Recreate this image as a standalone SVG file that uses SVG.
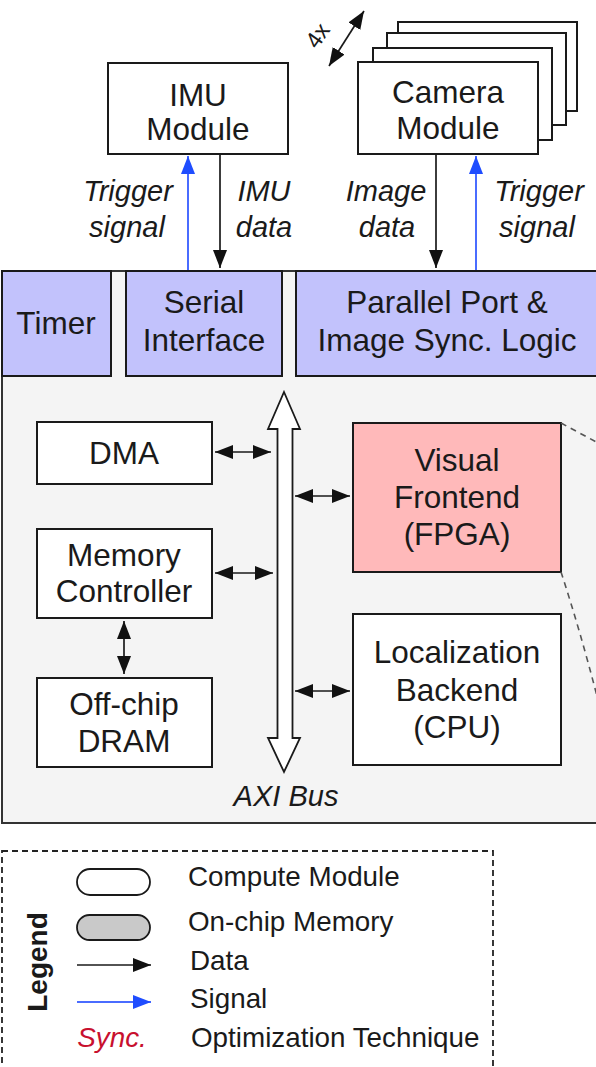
<svg xmlns="http://www.w3.org/2000/svg" width="596" height="1067" viewBox="0 0 596 1067">
  <defs>
    <style>
      text { font-family: "Liberation Sans", Arial, Helvetica, sans-serif; fill: #1a1a1a; }
      .t { font-size: 31.5px; text-anchor: middle; }
      .lbl { font-size: 29px; font-style: italic; text-anchor: middle; }
      .leg { font-size: 27.8px; }
      .box { fill: #ffffff; stroke: #1a1a1a; stroke-width: 2; }
      .port { fill: #c2c2fc; stroke: #1a1a1a; stroke-width: 2; }
      .data { stroke: #1a1a1a; stroke-width: 1.7; fill: none; }
      .sig { stroke: #4a6cff; stroke-width: 2; fill: none; }
      .dash { stroke: #555; stroke-width: 1.6; fill: none; stroke-dasharray: 6 5; }
    </style>
    <marker id="ah" viewBox="0 0 18 14" refX="18" refY="7" markerWidth="18" markerHeight="14" markerUnits="userSpaceOnUse" orient="auto-start-reverse">
      <path d="M0,0 L18,7 L0,14 z" fill="#111"/>
    </marker>
    <marker id="ahb" viewBox="0 0 18 14" refX="18" refY="7" markerWidth="18" markerHeight="14" markerUnits="userSpaceOnUse" orient="auto-start-reverse">
      <path d="M0,0 L18,7 L0,14 z" fill="#1f4dff"/>
    </marker>
  </defs>

  <rect width="596" height="1067" fill="#ffffff"/>

  <!-- SoC container -->
  <g id="soc">
    <rect x="2" y="271" width="600" height="552" fill="#f4f4f4" stroke="#333" stroke-width="2"/>
  </g>

  <!-- Sensor modules -->
  <g id="imu">
    <rect class="box" x="108" y="63" width="180" height="91"/>
    <text class="t" x="198" y="106">IMU</text>
    <text class="t" x="198" y="140">Module</text>
  </g>
  <g id="camera">
    <rect class="box" x="398" y="22" width="179" height="89"/>
    <rect class="box" x="387" y="33" width="179" height="92"/>
    <rect class="box" x="373" y="48" width="179" height="92"/>
    <rect class="box" x="358" y="62" width="180" height="92"/>
    <text class="t" x="448" y="103">Camera</text>
    <text class="t" x="448" y="139">Module</text>
  </g>
  <g id="multiplicity">
    <line class="data" x1="329" y1="66" x2="364" y2="11" marker-start="url(#ah)" marker-end="url(#ah)"/>
    <text x="324" y="40" font-size="23" text-anchor="middle" transform="rotate(-55 324 40)">4x</text>
  </g>

  <!-- Peripheral ports -->
  <g id="timer">
    <rect class="port" x="2" y="271" width="109" height="105"/>
    <text class="t" x="56" y="334">Timer</text>
  </g>
  <g id="serial">
    <rect class="port" x="126" y="271" width="156" height="105"/>
    <text class="t" x="204" y="313">Serial</text>
    <text class="t" x="204" y="351">Interface</text>
  </g>
  <g id="parallel">
    <rect class="port" x="296" y="271" width="304" height="105"/>
    <text class="t" x="447" y="313">Parallel Port &amp;</text>
    <text class="t" x="447" y="351">Image Sync. Logic</text>
  </g>

  <!-- On-chip blocks -->
  <g id="dma">
    <rect class="box" x="37" y="422" width="175" height="62"/>
    <text class="t" x="124" y="464">DMA</text>
  </g>
  <g id="memctrl">
    <rect class="box" x="37" y="529" width="175" height="89"/>
    <text class="t" x="124" y="566">Memory</text>
    <text class="t" x="124" y="602">Controller</text>
  </g>
  <g id="dram">
    <rect class="box" x="37" y="678" width="175" height="89"/>
    <text class="t" x="124" y="715">Off-chip</text>
    <text class="t" x="124" y="752">DRAM</text>
  </g>
  <g id="frontend">
    <rect x="353" y="423" width="208" height="149" fill="#ffb9ba" stroke="#1a1a1a" stroke-width="2"/>
    <text class="t" x="457" y="471">Visual</text>
    <text class="t" x="457" y="508">Frontend</text>
    <text class="t" x="457" y="545">(FPGA)</text>
  </g>
  <g id="backend">
    <rect class="box" x="353" y="614" width="208" height="151"/>
    <text class="t" x="457" y="663">Localization</text>
    <text class="t" x="457" y="701">Backend</text>
    <text class="t" x="457" y="738">(CPU)</text>
  </g>
  <g id="axi">
    <polygon points="284,392 300,429 292.5,429 292.5,738 300,738 284,772 268,738 277.5,738 277.5,429 268,429" fill="#ffffff" stroke="#1a1a1a" stroke-width="1.8" stroke-linejoin="miter"/>
    <text class="lbl" x="286" y="806">AXI Bus</text>
  </g>

  <!-- Connectors -->
  <g id="connectors">
    <line class="sig" x1="188" y1="270" x2="188" y2="156" marker-end="url(#ahb)"/>
    <line class="data" x1="220" y1="154" x2="220" y2="268" marker-end="url(#ah)"/>
    <line class="data" x1="436" y1="154" x2="436" y2="268" marker-end="url(#ah)"/>
    <line class="sig" x1="476" y1="270" x2="476" y2="156" marker-end="url(#ahb)"/>
    <line class="data" x1="215" y1="452" x2="271" y2="452" marker-start="url(#ah)" marker-end="url(#ah)"/>
    <line class="data" x1="215" y1="573" x2="273" y2="573" marker-start="url(#ah)" marker-end="url(#ah)"/>
    <line class="data" x1="124" y1="621" x2="124" y2="674" marker-start="url(#ah)" marker-end="url(#ah)"/>
    <line class="data" x1="295" y1="496" x2="350" y2="496" marker-start="url(#ah)" marker-end="url(#ah)"/>
    <line class="data" x1="295" y1="691" x2="350" y2="691" marker-start="url(#ah)" marker-end="url(#ah)"/>
    <line class="dash" x1="561" y1="423" x2="600" y2="444"/>
    <path class="dash" d="M561,572 Q580,630 598,700"/>
  </g>

  <!-- Signal labels -->
  <g id="labels">
    <text class="lbl" x="128" y="201">Trigger</text>
    <text class="lbl" x="127" y="237">signal</text>
    <text class="lbl" x="264" y="201">IMU</text>
    <text class="lbl" x="264" y="237">data</text>
    <text class="lbl" x="386" y="201">Image</text>
    <text class="lbl" x="387" y="237">data</text>
    <text class="lbl" x="539" y="201">Trigger</text>
    <text class="lbl" x="537" y="237">signal</text>
  </g>

  <!-- Legend -->
  <g id="legend">
    <rect x="2" y="851" width="491" height="240" fill="none" stroke="#222" stroke-width="1.8" stroke-dasharray="6 4"/>
    <text x="47" y="962" font-size="28" font-weight="bold" text-anchor="middle" transform="rotate(-90 47 962)">Legend</text>
    <rect x="77" y="869" width="73" height="26" rx="13" fill="#ffffff" stroke="#1a1a1a" stroke-width="1.8"/>
    <text class="leg" x="188" y="886">Compute Module</text>
    <rect x="77" y="915" width="73" height="25" rx="12.5" fill="#c9c9c9" stroke="#1a1a1a" stroke-width="1.8"/>
    <text class="leg" x="188" y="931">On-chip Memory</text>
    <line class="data" x1="77" y1="965" x2="151" y2="965" marker-end="url(#ah)"/>
    <text class="leg" x="190" y="970">Data</text>
    <line class="sig" x1="77" y1="1002" x2="151" y2="1002" marker-end="url(#ahb)"/>
    <text class="leg" x="190" y="1008">Signal</text>
    <text class="leg" x="112" y="1047" font-style="italic" text-anchor="middle" style="fill:#c8102e">Sync.</text>
    <text class="leg" x="191" y="1047">Optimization Technique</text>
  </g>
</svg>
